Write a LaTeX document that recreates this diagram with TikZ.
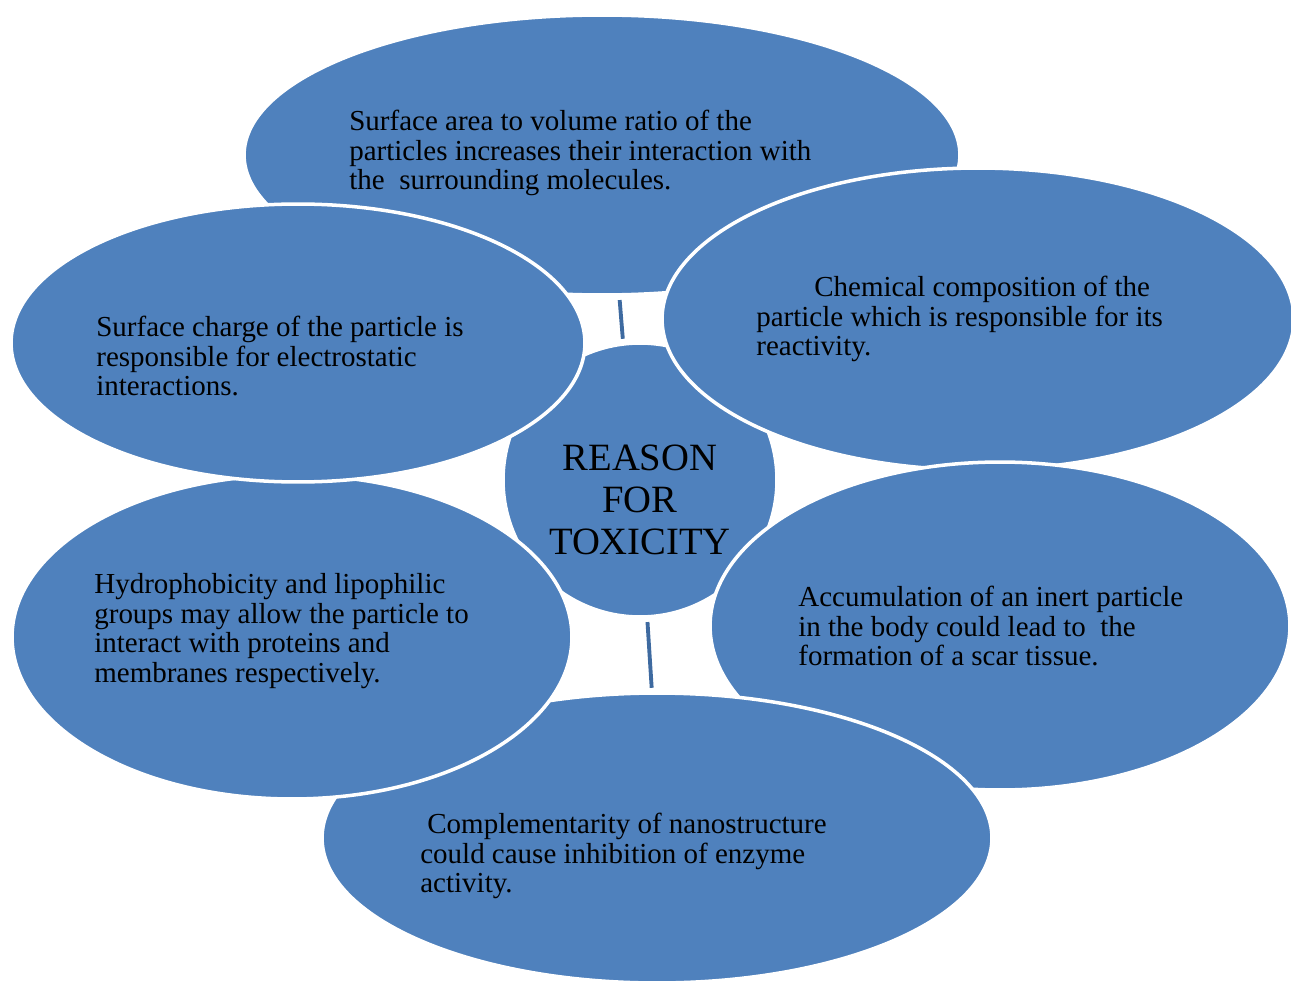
\documentclass[tikz,border=0pt]{standalone}
\usepackage{fontspec}
\setmainfont{Liberation Serif}
\newfontfamily\timesfont{Liberation Serif}
\usepackage{tikz}
\usetikzlibrary{shapes.geometric,positioning,calc}
\usepackage{xcolor}
\definecolor{blobblue}{HTML}{4F81BD}
\definecolor{linkblue}{HTML}{3E6AA0}

\begin{document}
\begin{tikzpicture}[x=0.02cm, y=-0.02cm,
    blob/.style 2 args={ellipse, fill=blobblue, draw=white, line width=2pt,
      minimum width=#1, minimum height=#2, inner sep=0pt},
    txt/.style={anchor=west, align=left, inner sep=0pt,
      font=\timesfont\fontsize{16.5}{17}\selectfont},
    link/.style={draw=linkblue, line width=2.2pt, shorten <=2pt, shorten >=2pt}]
            \useasboundingbox (0,0) rectangle (1291,983);

            % Back ellipses
            \node[blob={14.32cm}{5.6cm}] (surface) at (602,155) {};
            \node[blob={5.48cm}{5.48cm}] (hub) at (640,480) {};
            \node[blob={12.64cm}{6.04cm}] (chem) at (978,319) {};
            \node[blob={11.6cm}{6.56cm}] (inert) at (1000,626) {};
            \node[blob={13.4cm}{5.8cm}] (enzyme) at (657,838) {};
            \node[blob={11.2cm}{6.48cm}] (hydro) at (292,637) {};
            \node[blob={11.48cm}{5.56cm}] (charge) at (298,343) {};

            % Texts
            \node[txt] (surface-txt) at (349,153) {Surface area to volume ratio of the\\particles increases their interaction with\\the~ surrounding molecules.};
            \node[txt] (charge-txt) at (96,356) {Surface charge of the particle is\\responsible for electrostatic\\interactions.};
            \node[txt] (chem-txt) at (756,319) {\hspace*{2em}Chemical composition of the\\particle which is responsible for its\\reactivity.};
            \node[txt] (hydro-txt) at (94,631) {Hydrophobicity and lipophilic\\groups may allow the particle to\\interact with proteins and\\membranes respectively.};
            \node[txt] (inert-txt) at (798,626) {Accumulation of an inert particle\\in the body could lead to~ the\\formation of a scar tissue.};
            \node[txt] (enzyme-txt) at (420,856) {\hspace*{4pt}Complementarity of nanostructure\\could cause inhibition of enzyme\\activity.};

            % Centre
            \node[align=center, inner sep=0pt, font=\timesfont\fontsize{22}{24}\selectfont] (hub-txt) at (640,500) {REASON\\FOR\\TOXICITY};

            % Links
            \draw[link] (surface.-83) -- (hub.97);
            \draw[link] (hub.-87) -- (enzyme.92);
        \end{tikzpicture}
\end{document}
